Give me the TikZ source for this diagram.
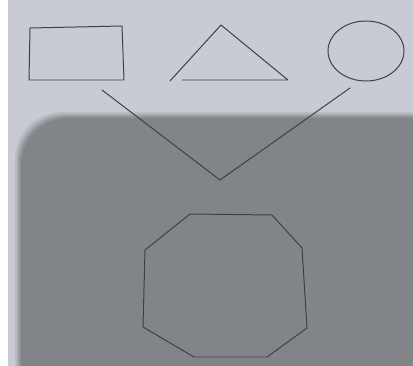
\documentclass[tikz,border=0pt]{standalone}
\usepackage{tikz}
\usetikzlibrary{calc}

\definecolor{paper}{RGB}{200,203,212}
\definecolor{shade}{RGB}{130,133,136}
\definecolor{pencil}{RGB}{62,64,72}

\begin{document}
\begin{tikzpicture}[
  x=0.03cm, y=-0.03cm,
  sketch/.style={draw=pencil, line width=0.85pt, line join=round, line cap=round},
  shadow/.style={fill=shade}
]
  \clip (0,0) rectangle (413,366);
  % paper and the shadow on it
  \fill[white] (0,0) rectangle (413,366);
  \fill[paper] (8,0) rectangle (413,366);
  \foreach \d/\o in {-4/0.2,-2/0.35,0/0.6,2/1}
    \fill[shadow, opacity=\o] (19+\d,400) [rounded corners=40pt] -- (19+\d,116+\d)
      [sharp corners] -- (440,116+\d) -- (440,400) -- cycle;

  % corners of the shapes
  \coordinate (r1) at (30,28);   \coordinate (r2) at (122,26);
  \coordinate (r3) at (124,80);  \coordinate (r4) at (29,80);
  \coordinate (t1) at (170,81);  \coordinate (t2) at (221,25);
  \coordinate (t3) at (288,80);  \coordinate (t4) at (182,80);
  \coordinate (circ) at (366,51);
  \coordinate (vl) at (102,90);  \coordinate (vtip) at (220,180);
  \coordinate (vr) at (350,88);
  \coordinate (o1) at (190,214); \coordinate (o2) at (272,215);
  \coordinate (o3) at (302,248); \coordinate (o4) at (307,328);
  \coordinate (o5) at (267,357); \coordinate (o6) at (194,357);
  \coordinate (o7) at (143,327); \coordinate (o8) at (145,250);

  \draw[sketch] (r1) -- (r2) -- (r3) -- (r4) -- cycle;
  \draw[sketch] (t1) -- (t2) -- (t3) -- (t4);
  \draw[sketch] (circ) ellipse [x radius=38, y radius=30];
  \draw[sketch] (vl) -- (vtip) -- (vr);
  \draw[sketch] (o1) -- (o2) -- (o3) -- (o4) -- (o5) -- (o6) -- (o7) -- (o8) -- cycle;
\end{tikzpicture}
\end{document}
